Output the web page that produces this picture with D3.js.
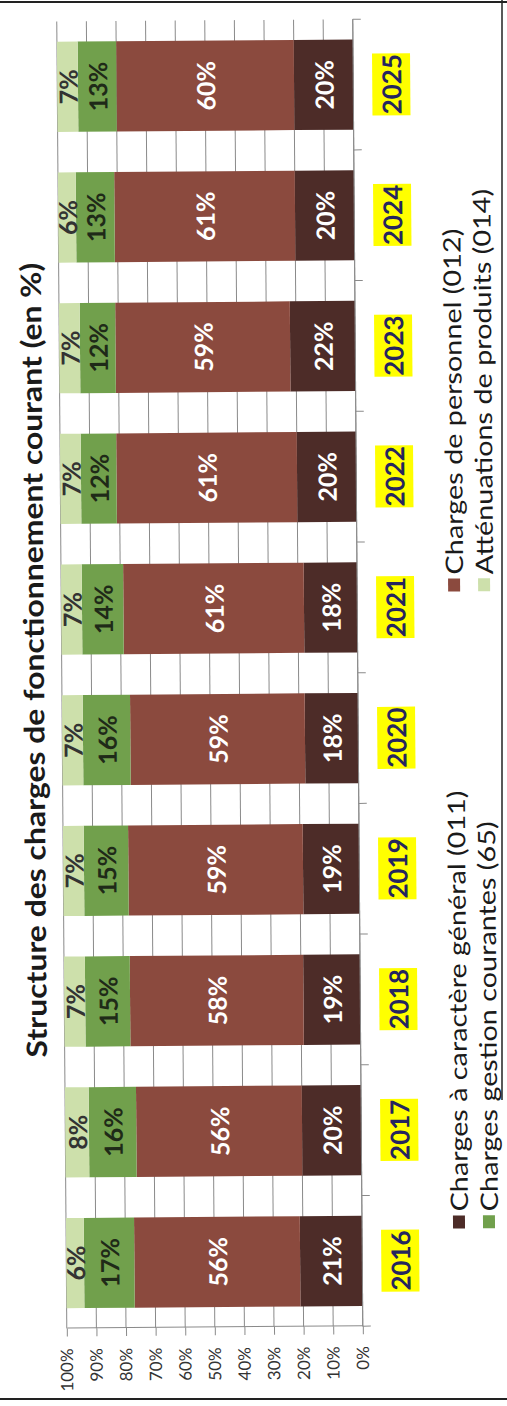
<!DOCTYPE html>
<html>
<head>
<meta charset="utf-8">
<script src="https://cdn.jsdelivr.net/npm/d3@7"></script>
<style>
  html, body { margin: 0; padding: 0; background: #fff; }
  svg { display: block; }
  text { font-family: Lato, "Open Sans", sans-serif; }
</style>
</head>
<body>
<svg id="chart" width="507" height="1406"></svg>
<script>
// Structure des charges de fonctionnement courant, 2016-2025 (en %)
const years = ["2016", "2017", "2018", "2019", "2020", "2021", "2022", "2023", "2024", "2025"];
const chargesGenerales = [21, 20, 19, 19, 18, 18, 20, 22, 20, 20];   // 011
const chargesPersonnel = [56, 56, 58, 59, 59, 61, 61, 59, 61, 60];   // 012
const chargesGestion   = [17, 16, 15, 15, 16, 14, 12, 12, 13, 13];   // 65
const attenuations     = [6, 8, 7, 7, 7, 7, 7, 7, 6, 7];             // 014
const seriesKeys   = ["c011", "c012", "c65", "c014"];
const seriesLabels = ["Charges à caractère général (011)", "Charges de personnel (012)",
                      "Charges gestion courantes (65)", "Atténuations de produits (014)"];
const axisTicks = [0, 0.1, 0.2, 0.3, 0.4, 0.5, 0.6, 0.7, 0.8, 0.9, 1];
const titleText = "Structure des charges de fonctionnement courant (en %)";

const colors = { c011: "#4d2c28", c012: "#8b4a3e", c65: "#71a04c", c014: "#cde0ab" };
const labelColors = { c011: "#ffffff", c012: "#ffffff", c65: "#1f2a18", c014: "#333333" };

const rows = years.map((y, i) => ({
  year: y,
  c011: chargesGenerales[i],
  c012: chargesPersonnel[i],
  c65: chargesGestion[i],
  c014: attenuations[i]
}));

// The chart is laid out landscape (W x H) and turned a quarter turn onto the page,
// with the slight tilt of the printed sheet.
const W = 1406, H = 507;
const svg = d3.select("#chart");
svg.append("rect").attr("width", 507).attr("height", 1406).attr("fill", "#fff");
const tilt = svg.append("g").attr("transform", "rotate(-0.44, 253.5, 703)");
const g = tilt.append("g").attr("transform", `translate(0,${W}) rotate(-90)`);

const plot = { left: 79, right: 1386, top: 62, bottom: 358 };
const x = d3.scaleBand().domain(years).range([plot.left, plot.right])
  .paddingInner(0.31).paddingOuter(0.155);
const y = d3.scaleLinear().domain([0, 1]).range([plot.bottom, plot.top]);

// gridlines
g.append("g").selectAll("line").data(axisTicks).join("line")
  .attr("x1", plot.left).attr("x2", plot.right)
  .attr("y1", d => y(d)).attr("y2", d => y(d))
  .attr("stroke", "#8a8a8a").attr("stroke-width", 1);

// stacked 100% bars
const stack = d3.stack().keys(seriesKeys).offset(d3.stackOffsetExpand);
const layers = stack(rows);

const layerG = g.append("g").selectAll("g").data(layers).join("g")
  .attr("fill", d => colors[d.key]);
layerG.selectAll("rect").data(d => d).join("rect")
  .attr("x", d => x(d.data.year))
  .attr("width", x.bandwidth())
  .attr("y", d => y(d[1]))
  .attr("height", d => y(d[0]) - y(d[1]));

// value labels
const labelG = g.append("g");
layers.forEach(layer => {
  labelG.selectAll(null).data(layer).join("text")
    .attr("x", d => x(d.data.year) + x.bandwidth() / 2)
    .attr("y", d => (y(d[0]) + y(d[1])) / 2)
    .attr("text-anchor", "middle")
    .attr("dominant-baseline", "central")
    .attr("font-size", 25)
    .attr("font-weight", 700)
    .attr("fill", labelColors[layer.key])
    .text(d => d.data[layer.key] + "%");
});

// value axis
const yAxis = g.append("g").attr("transform", `translate(${plot.left},0)`)
  .call(d3.axisLeft(y).tickValues(axisTicks).tickFormat(d3.format(".0%"))
    .tickSize(8).tickSizeOuter(0).tickPadding(12));
yAxis.select(".domain").attr("stroke", "#8a8a8a");
yAxis.selectAll(".tick line").attr("stroke", "#8a8a8a");
yAxis.selectAll("text").attr("font-size", 17).attr("fill", "#333333")
  .style("font-family", "Lato, sans-serif");

// category axis: line at 0% with ticks between categories
const step = x.step();
const bounds = d3.range(years.length + 1).map(i =>
  i < years.length ? x(years[i]) - step * x.paddingInner() / 2 : plot.right);
const catAxis = g.append("g");
catAxis.append("line")
  .attr("x1", plot.left).attr("x2", plot.right)
  .attr("y1", y(0)).attr("y2", y(0))
  .attr("stroke", "#8a8a8a");
catAxis.selectAll(".ctick").data(bounds).join("line")
  .attr("x1", d => d).attr("x2", d => d)
  .attr("y1", y(0)).attr("y2", y(0) + 8)
  .attr("stroke", "#8a8a8a");

// highlighted year labels
const yearG = g.append("g").selectAll("g").data(years).join("g")
  .attr("transform", d => `translate(${x(d) + x.bandwidth() / 2},396)`);
yearG.append("rect")
  .attr("x", -31).attr("y", -19).attr("width", 62).attr("height", 38)
  .attr("fill", "#ffff00");
yearG.append("text")
  .attr("text-anchor", "middle").attr("dominant-baseline", "central")
  .attr("font-size", 26).attr("font-weight", 700).attr("fill", "#25255f")
  .text(d => d);

// title (printed slightly wide)
g.append("g")
  .attr("transform", `translate(${(plot.left + plot.right) / 2 + 15},33) scale(1.14,1)`)
  .append("text")
  .attr("text-anchor", "middle").attr("dominant-baseline", "central")
  .attr("font-size", 28).attr("font-weight", 700).attr("fill", "#1a1a1a")
  .text(titleText);

// legend, two columns of two entries
const legendPos = [
  { key: "c011", x: 176, y: 455 },
  { key: "c012", x: 813, y: 455 },
  { key: "c65",  x: 176, y: 485 },
  { key: "c014", x: 813, y: 485 }
];
const legend = g.append("g").selectAll("g").data(legendPos).join("g")
  .attr("transform", d => `translate(${d.x},${d.y})`);
legend.append("rect")
  .attr("x", 0).attr("y", -6).attr("width", 13).attr("height", 12)
  .attr("fill", d => colors[d.key]);
legend.append("g")
  .attr("transform", "translate(17,0) scale(1.2,1)")
  .append("text")
  .attr("dominant-baseline", "central")
  .attr("font-size", 24).attr("fill", "#1a1a1a")
  .text(d => seriesLabels[seriesKeys.indexOf(d.key)]);

// outer frame
svg.append("line").attr("x1", 0).attr("x2", 507).attr("y1", 2).attr("y2", 2)
  .attr("stroke", "#222").attr("stroke-width", 2);
svg.append("line").attr("x1", 0).attr("x2", 507).attr("y1", 1399).attr("y2", 1399)
  .attr("stroke", "#222").attr("stroke-width", 2);
svg.append("line").attr("x1", 502).attr("x2", 502).attr("y1", 0).attr("y2", 1100)
  .attr("stroke", "#222").attr("stroke-width", 1.5);
</script>
</body>
</html>
